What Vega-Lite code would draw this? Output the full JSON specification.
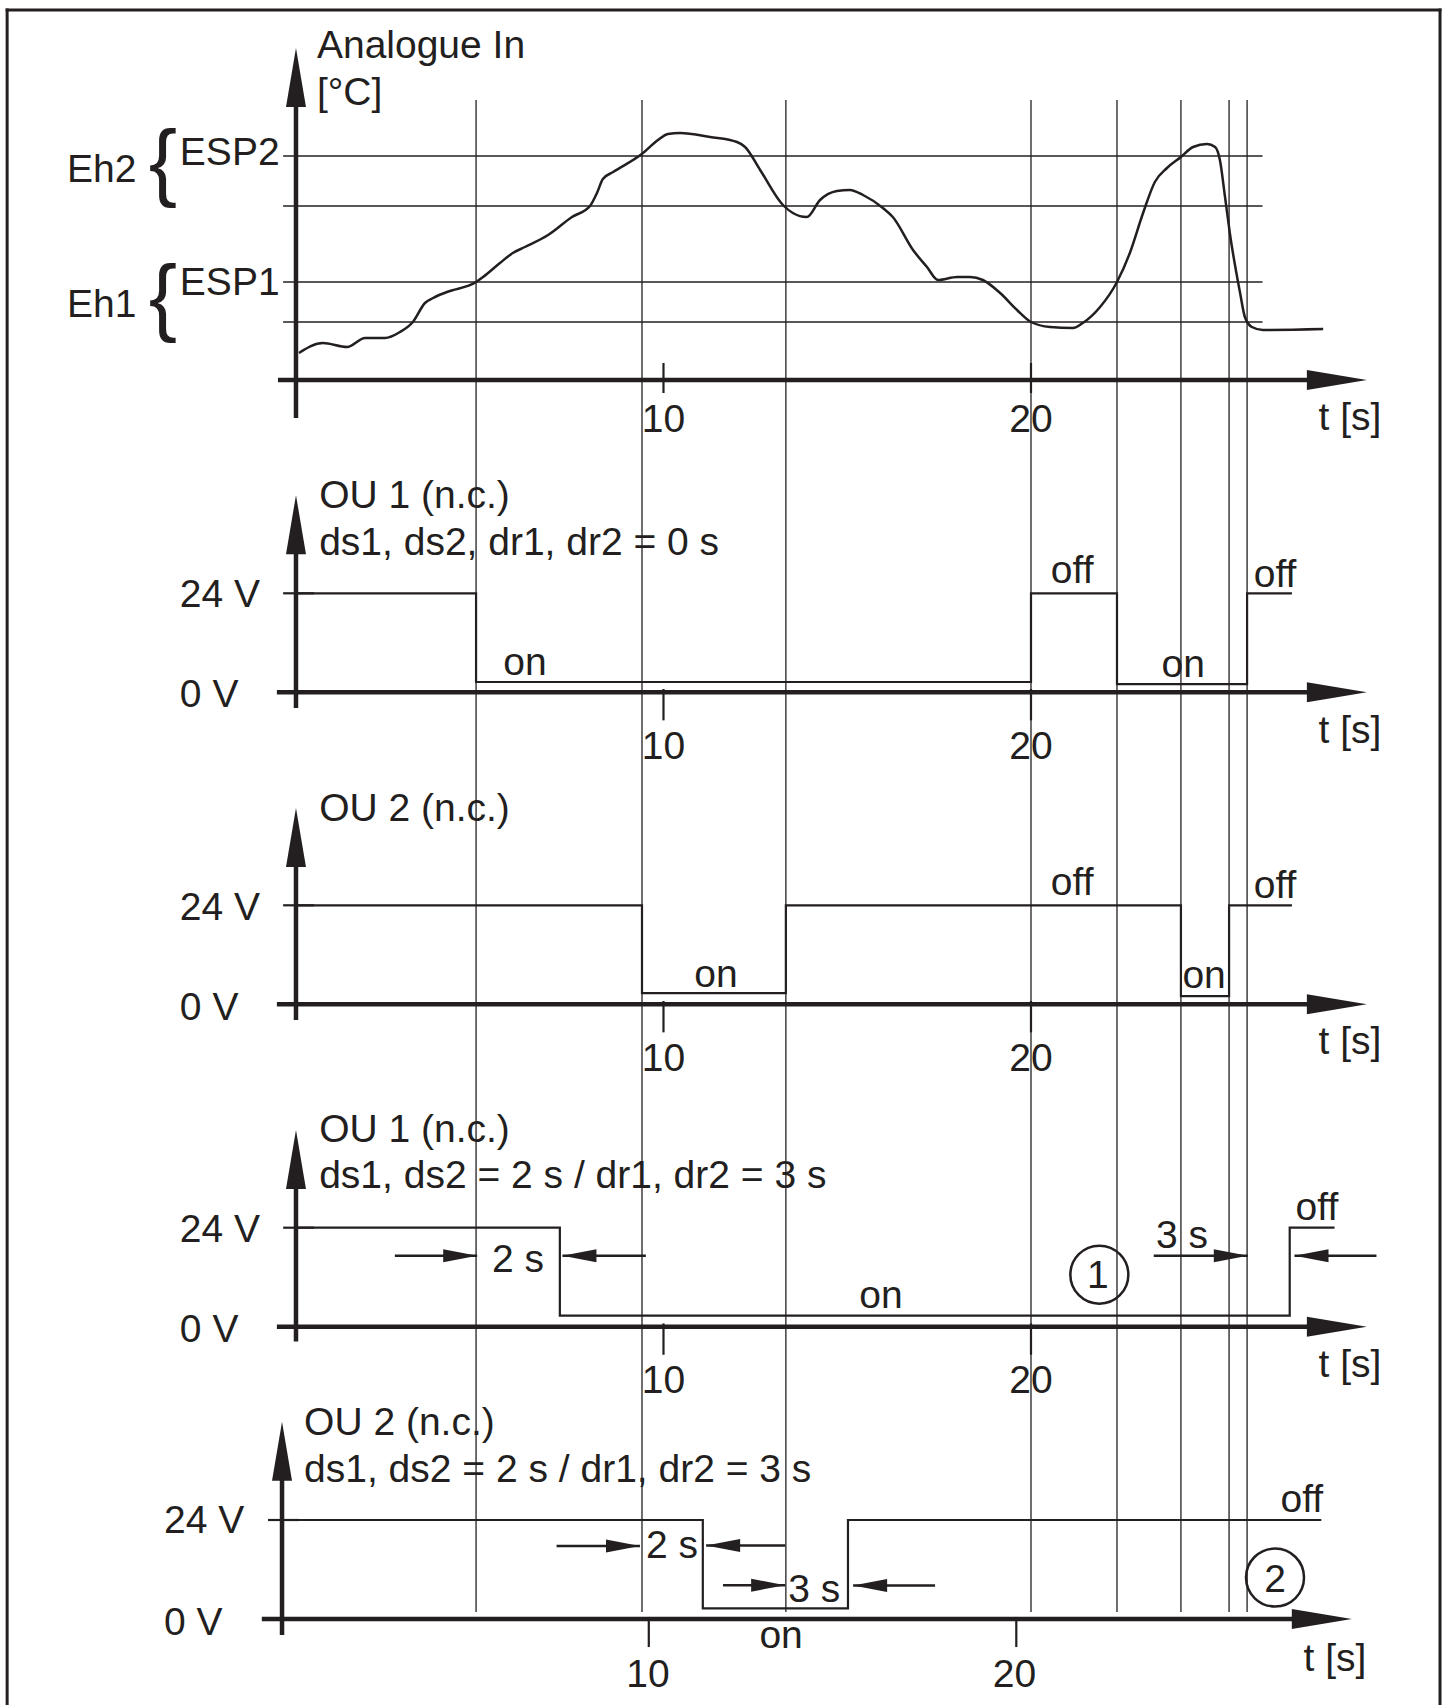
{
 "$schema": "https://vega.github.io/schema/vega-lite/v6.json",
 "background": "white",
 "padding": 0,
 "spacing": 0,
 "bounds": "flush",
 "config": {"view": {"stroke": null}, "font": "Liberation Sans"},
 "datasets": {
  "events": [{"t":4.9},{"t":9.415},{"t":13.33},{"t":20.0},{"t":22.34},{"t":24.08},{"t":25.39},{"t":25.88}],
  "frame": [{"t":-7.86},{"t":31.13}],
  "frameTop": [{"t":-7.9,"t2":31.17,"v":92.5}],
  "levels": [{"name":"ESP2","t":-0.35,"t2":26.3,"v":56},{"name":"ESP2-Eh2","t":-0.35,"t2":26.3,"v":43.5},{"name":"ESP1","t":-0.35,"t2":26.3,"v":24.5},{"name":"ESP1-Eh1","t":-0.35,"t2":26.3,"v":14.5}],
  "curve": [
   {"t":0.08,"v":6.75},{"t":0.73,"v":9.25},{"t":1.39,"v":8.25},{"t":1.88,"v":10.5},{"t":2.42,"v":10.5},{"t":2.83,"v":12.0},{"t":3.18,"v":14.5},{"t":3.51,"v":19.25},{"t":3.73,"v":20.5},{"t":4.11,"v":22.0},{"t":4.9,"v":24.5},{"t":5.09,"v":25.75},{"t":5.55,"v":29.25},{"t":5.9,"v":31.75},{"t":6.23,"v":33.25},{"t":6.86,"v":36.25},{"t":7.51,"v":40.75},{"t":8.0,"v":43.5},{"t":8.19,"v":46.75},{"t":8.35,"v":50.25},{"t":8.63,"v":52.0},{"t":9.41,"v":56.5},{"t":9.85,"v":60.0},{"t":10.12,"v":61.5},{"t":10.45,"v":61.75},{"t":11.27,"v":60.75},{"t":12.0,"v":59.5},{"t":12.22,"v":58.25},{"t":12.63,"v":52.5},{"t":13.25,"v":43.75},{"t":13.52,"v":41.75},{"t":13.9,"v":40.75},{"t":14.26,"v":45.0},{"t":14.72,"v":47.25},{"t":15.07,"v":47.5},{"t":15.43,"v":46.25},{"t":15.97,"v":43.0},{"t":16.24,"v":40.75},{"t":16.79,"v":32.5},{"t":17.17,"v":28.25},{"t":17.47,"v":25.0},{"t":17.99,"v":25.75},{"t":18.34,"v":25.75},{"t":18.69,"v":25.0},{"t":19.16,"v":21.75},{"t":19.62,"v":17.5},{"t":20.0,"v":14.5},{"t":20.52,"v":13.25},{"t":21.14,"v":13.0},{"t":21.41,"v":14.25},{"t":21.88,"v":18.25},{"t":22.34,"v":24.5},{"t":22.69,"v":31.75},{"t":23.05,"v":41.75},{"t":23.37,"v":49.5},{"t":23.7,"v":53.0},{"t":24.08,"v":55.75},{"t":24.41,"v":58.25},{"t":24.79,"v":59.0},{"t":25.01,"v":58.25},{"t":25.14,"v":55.0},{"t":25.28,"v":45.75},{"t":25.41,"v":36.75},{"t":25.69,"v":21.75},{"t":25.82,"v":15.75},{"t":26.01,"v":13.25},{"t":26.31,"v":12.5},{"t":27.95,"v":12.75}
  ],
  "axes": [
   {"panel":1,"t":0,"v":-9.5,"t2":0,"v2":70.5},{"panel":1,"t":-0.49,"v":0,"t2":27.7,"v2":0},
   {"panel":2,"t":0,"v":-3.8,"t2":0,"v2":35.7},{"panel":2,"t":-0.52,"v":0,"t2":27.7,"v2":0},
   {"panel":3,"t":0,"v":-3.8,"t2":0,"v2":35.7},{"panel":3,"t":-0.52,"v":0,"t2":27.7,"v2":0},
   {"panel":4,"t":0,"v":-3.6,"t2":0,"v2":35.7},{"panel":4,"t":-0.52,"v":0,"t2":27.7,"v2":0},
   {"panel":5,"t":-0.38,"v":-3.9,"t2":-0.38,"v2":35.7},{"panel":5,"t":-0.93,"v":0,"t2":27.3,"v2":0}
  ],
  "ticks": [
   {"panel":1,"t":10,"v":4.25,"t2":10,"v2":-3.25},{"panel":1,"t":20,"v":4.25,"t2":20,"v2":-3.25},
   {"panel":2,"t":10,"v":0.8,"t2":10,"v2":-6.8},{"panel":2,"t":20,"v":0.8,"t2":20,"v2":-6.8},{"panel":2,"t":-0.35,"v":24,"t2":0.49,"v2":24},
   {"panel":3,"t":10,"v":0.8,"t2":10,"v2":-6.8},{"panel":3,"t":20,"v":0.8,"t2":20,"v2":-6.8},{"panel":3,"t":-0.35,"v":24,"t2":0.49,"v2":24},
   {"panel":4,"t":10,"v":0.8,"t2":10,"v2":-6.8},{"panel":4,"t":20,"v":0.8,"t2":20,"v2":-6.8},{"panel":4,"t":-0.35,"v":24,"t2":0.49,"v2":24},
   {"panel":5,"t":9.6,"v":0.5,"t2":9.6,"v2":-6.8},{"panel":5,"t":19.6,"v":0.5,"t2":19.6,"v2":-6.8},{"panel":5,"t":-0.76,"v":24,"t2":0.08,"v2":24}
  ],
  "heads": [
   {"panel":1,"t":0,"v":83,"dir":"up"},{"panel":1,"t":29.14,"v":0,"dir":"right"},
   {"panel":2,"t":0,"v":47.8,"dir":"up"},{"panel":2,"t":29.14,"v":0,"dir":"right"},
   {"panel":3,"t":0,"v":47.6,"dir":"up"},{"panel":3,"t":29.14,"v":0,"dir":"right"},
   {"panel":4,"t":0,"v":47.7,"dir":"up"},{"panel":4,"t":29.14,"v":0,"dir":"right"},
   {"panel":4,"t":4.93,"v":17.2,"dir":"dimRight"},{"panel":4,"t":7.25,"v":17.2,"dir":"dimLeft"},{"panel":4,"t":25.9,"v":17.2,"dir":"dimRight"},{"panel":4,"t":27.17,"v":17.2,"dir":"dimLeft"},
   {"panel":5,"t":-0.38,"v":47.8,"dir":"up"},{"panel":5,"t":28.73,"v":0,"dir":"right"},
   {"panel":5,"t":9.36,"v":17.7,"dir":"dimRight"},{"panel":5,"t":11.16,"v":17.8,"dir":"dimLeft"},{"panel":5,"t":13.31,"v":8.2,"dir":"dimRight"},{"panel":5,"t":15.16,"v":8.1,"dir":"dimLeft"}
  ],
  "dims": [
   {"panel":4,"t":2.69,"t2":4.93,"v":17.2},{"panel":4,"t":9.52,"t2":7.25,"v":17.2},{"panel":4,"t":23.34,"t2":25.9,"v":17.2},{"panel":4,"t":29.4,"t2":27.17,"v":17.2},
   {"panel":5,"t":7.09,"t2":9.36,"v":17.7},{"panel":5,"t":13.31,"t2":11.16,"v":17.8},{"panel":5,"t":11.62,"t2":13.31,"v":8.2},{"panel":5,"t":17.39,"t2":15.16,"v":8.1}
  ],
  "circles": [{"panel":4,"t":21.86,"v":12.6},{"panel":5,"t":26.64,"v":10.06}],
  "signals": [
   {"panel":2,"t":0,"v":24},{"panel":2,"t":4.9,"v":2.5},{"panel":2,"t":20.0,"v":24},{"panel":2,"t":22.34,"v":2.0},{"panel":2,"t":25.88,"v":24},{"panel":2,"t":27.1,"v":24},
   {"panel":3,"t":0,"v":24},{"panel":3,"t":9.415,"v":2.7},{"panel":3,"t":13.33,"v":24},{"panel":3,"t":24.08,"v":2.0},{"panel":3,"t":25.39,"v":24},{"panel":3,"t":27.1,"v":24},
   {"panel":4,"t":0,"v":24},{"panel":4,"t":7.18,"v":2.7},{"panel":4,"t":27.04,"v":24},{"panel":4,"t":28.26,"v":24},
   {"panel":5,"t":-0.38,"v":24},{"panel":5,"t":11.07,"v":2.6},{"panel":5,"t":15.02,"v":24},{"panel":5,"t":27.9,"v":24}
  ],
  "braces": [{"t":-3.62,"v":47.5,"label":"{"},{"t":-3.62,"v":13.75,"label":"{"}],
  "leftText": [
   {"panel":1,"t":0.57,"v":80.4,"label":"Analogue In"},
   {"panel":1,"t":0.57,"v":68.75,"label":"[°C]"},
   {"panel":1,"t":-3.16,"v":53.75,"label":"ESP2"},
   {"panel":1,"t":-3.16,"v":21.25,"label":"ESP1"},
   {"panel":1,"t":-6.23,"v":49.5,"label":"Eh2"},
   {"panel":1,"t":-6.23,"v":15.75,"label":"Eh1"},
   {"panel":2,"t":0.63,"v":44.7,"label":"OU 1 (n.c.)"},
   {"panel":2,"t":0.63,"v":33.3,"label":"ds1, ds2, dr1, dr2 = 0 s"},
   {"panel":2,"t":-3.16,"v":20.6,"label":"24 V"},
   {"panel":2,"t":-3.16,"v":-3.6,"label":"0 V"},
   {"panel":3,"t":0.63,"v":44.4,"label":"OU 2 (n.c.)"},
   {"panel":3,"t":-3.16,"v":20.4,"label":"24 V"},
   {"panel":3,"t":-3.16,"v":-3.8,"label":"0 V"},
   {"panel":4,"t":0.63,"v":44.85,"label":"OU 1 (n.c.)"},
   {"panel":4,"t":0.63,"v":33.55,"label":"ds1, ds2 = 2 s / dr1, dr2 = 3 s"},
   {"panel":4,"t":-3.16,"v":20.5,"label":"24 V"},
   {"panel":4,"t":-3.16,"v":-3.7,"label":"0 V"},
   {"panel":5,"t":0.22,"v":44.6,"label":"OU 2 (n.c.)"},
   {"panel":5,"t":0.22,"v":33.3,"label":"ds1, ds2 = 2 s / dr1, dr2 = 3 s"},
   {"panel":5,"t":-3.59,"v":20.8,"label":"24 V"},
   {"panel":5,"t":-3.59,"v":-3.9,"label":"0 V"}
  ],
  "centerText": [
   {"panel":1,"t":10,"v":-13,"label":"10"},{"panel":1,"t":20,"v":-13,"label":"20"},{"panel":1,"t":28.68,"v":-12.4,"label":"t [s]"},
   {"panel":2,"t":6.23,"v":4.2,"label":"on"},{"panel":2,"t":21.12,"v":26.5,"label":"off"},{"panel":2,"t":24.14,"v":3.7,"label":"on"},{"panel":2,"t":26.64,"v":25.5,"label":"off"},{"panel":2,"t":10,"v":-16.1,"label":"10"},{"panel":2,"t":20,"v":-16.1,"label":"20"},{"panel":2,"t":28.68,"v":-12.2,"label":"t [s]"},
   {"panel":3,"t":11.43,"v":4.2,"label":"on"},{"panel":3,"t":21.12,"v":26.5,"label":"off"},{"panel":3,"t":24.71,"v":4.0,"label":"on"},{"panel":3,"t":26.64,"v":25.8,"label":"off"},{"panel":3,"t":10,"v":-16.1,"label":"10"},{"panel":3,"t":20,"v":-16.1,"label":"20"},{"panel":3,"t":28.68,"v":-12.0,"label":"t [s]"},
   {"panel":4,"t":6.04,"v":13.3,"label":"2 s"},{"panel":4,"t":15.92,"v":4.5,"label":"on"},{"panel":4,"t":21.82,"v":9.4,"label":"1"},{"panel":4,"t":24.11,"v":19.0,"label":"3 s"},{"panel":4,"t":27.78,"v":25.9,"label":"off"},{"panel":4,"t":10,"v":-16.0,"label":"10"},{"panel":4,"t":20,"v":-16.0,"label":"20"},{"panel":4,"t":28.68,"v":-12.3,"label":"t [s]"},
   {"panel":5,"t":10.23,"v":14.7,"label":"2 s"},{"panel":5,"t":14.1,"v":4.1,"label":"3 s"},{"panel":5,"t":13.2,"v":-7.0,"label":"on"},{"panel":5,"t":27.37,"v":25.9,"label":"off"},{"panel":5,"t":26.64,"v":6.6,"label":"2"},{"panel":5,"t":9.58,"v":-16.5,"label":"10"},{"panel":5,"t":19.55,"v":-16.5,"label":"20"},{"panel":5,"t":28.27,"v":-12.5,"label":"t [s]"}
  ]
 },
 "vconcat": [
  {
   "width": 1448, "height": 430,
   "encoding": {
    "x": {"field": "t", "type": "quantitative", "scale": {"domain": [-8.054, 31.347], "nice": false, "zero": false}, "axis": null}
   },
   "layer": [
    {"data": {"name": "events"}, "mark": {"type": "rule", "strokeWidth": 1.3, "color": "#231f20"},
     "encoding": {"y": {"datum": 70, "type": "quantitative", "scale": {"domain": [-12.5, 95], "nice": false, "zero": false}, "axis": null}, "y2": {"datum": -12.5}}},
    {"data": {"name": "frame"}, "mark": {"type": "rule", "strokeWidth": 3, "color": "#231f20"},
     "encoding": {"y": {"datum": 92.875, "type": "quantitative", "scale": {"domain": [-12.5, 95], "nice": false, "zero": false}, "axis": null}, "y2": {"datum": -12.5}}},
    {"data": {"name": "frameTop"}, "mark": {"type": "rule", "strokeWidth": 3, "color": "#231f20"},
     "encoding": {"x2": {"field": "t2"}, "y": {"field": "v", "type": "quantitative", "scale": {"domain": [-12.5, 95], "nice": false, "zero": false}, "axis": null}}},
    {"data": {"name": "levels"}, "mark": {"type": "rule", "strokeWidth": 1.5, "color": "#231f20"},
     "encoding": {"x2": {"field": "t2"}, "y": {"field": "v", "type": "quantitative", "scale": {"domain": [-12.5, 95], "nice": false, "zero": false}, "axis": null}}},
    {"data": {"name": "axes"}, "transform": [{"filter": "datum.panel == 1"}], "mark": {"type": "rule", "strokeWidth": 4.5, "color": "#231f20"},
     "encoding": {"x2": {"field": "t2"}, "y": {"field": "v", "type": "quantitative", "scale": {"domain": [-12.5, 95], "nice": false, "zero": false}, "axis": null}, "y2": {"field": "v2"}}},
    {"data": {"name": "ticks"}, "transform": [{"filter": "datum.panel == 1"}], "mark": {"type": "rule", "strokeWidth": 2.2, "color": "#231f20"},
     "encoding": {"x2": {"field": "t2"}, "y": {"field": "v", "type": "quantitative", "scale": {"domain": [-12.5, 95], "nice": false, "zero": false}, "axis": null}, "y2": {"field": "v2"}}},
    {"data": {"name": "curve"}, "mark": {"type": "line", "interpolate": "monotone", "strokeWidth": 2.5, "color": "#231f20"},
     "encoding": {"y": {"field": "v", "type": "quantitative", "scale": {"domain": [-12.5, 95], "nice": false, "zero": false}, "axis": null}}},
    {"data": {"name": "heads"}, "transform": [{"filter": "datum.panel == 1"}], "mark": {"type": "point", "filled": true, "size": 3600, "opacity": 1, "color": "#231f20"},
     "encoding": {"y": {"field": "v", "type": "quantitative", "scale": {"domain": [-12.5, 95], "nice": false, "zero": false}, "axis": null},
      "shape": {"field": "dir", "type": "nominal", "legend": null, "scale": {"domain": ["up", "right", "dimRight", "dimLeft"], "range": ["M0,0L0.333,1.967L-0.333,1.967Z", "M0,0L-2,-0.333L-2,0.333Z", "M0,0L-1.133,-0.217L-1.133,0.217Z", "M0,0L1.133,-0.217L1.133,0.217Z"]}}}},
    {"data": {"name": "braces"}, "mark": {"type": "text", "align": "center", "baseline": "alphabetic", "fontSize": 85, "font": "Liberation Sans", "color": "#231f20"},
     "encoding": {"y": {"field": "v", "type": "quantitative", "scale": {"domain": [-12.5, 95], "nice": false, "zero": false}, "axis": null}, "text": {"field": "label"}}},
    {"data": {"name": "leftText"}, "transform": [{"filter": "datum.panel == 1"}], "mark": {"type": "text", "align": "left", "baseline": "alphabetic", "fontSize": 39, "font": "Liberation Sans", "color": "#231f20"},
     "encoding": {"y": {"field": "v", "type": "quantitative", "scale": {"domain": [-12.5, 95], "nice": false, "zero": false}, "axis": null}, "text": {"field": "label"}}},
    {"data": {"name": "centerText"}, "transform": [{"filter": "datum.panel == 1"}], "mark": {"type": "text", "align": "center", "baseline": "alphabetic", "fontSize": 39, "font": "Liberation Sans", "color": "#231f20"},
     "encoding": {"y": {"field": "v", "type": "quantitative", "scale": {"domain": [-12.5, 95], "nice": false, "zero": false}, "axis": null}, "text": {"field": "label"}}}
   ]
  },
  {
   "width": 1448, "height": 315,
   "encoding": {
    "x": {"field": "t", "type": "quantitative", "scale": {"domain": [-8.054, 31.347], "nice": false, "zero": false}, "axis": null}
   },
   "layer": [
    {"data": {"name": "events"}, "mark": {"type": "rule", "strokeWidth": 1.3, "color": "#231f20"}, "encoding": {}},
    {"data": {"name": "frame"}, "mark": {"type": "rule", "strokeWidth": 3, "color": "#231f20"}, "encoding": {}},
    {"data": {"name": "axes"}, "transform": [{"filter": "datum.panel == 2"}], "mark": {"type": "rule", "strokeWidth": 4.5, "color": "#231f20"},
     "encoding": {"x2": {"field": "t2"}, "y": {"field": "v", "type": "quantitative", "scale": {"domain": [-12.776, 63.588], "nice": false, "zero": false}, "axis": null}, "y2": {"field": "v2"}}},
    {"data": {"name": "ticks"}, "transform": [{"filter": "datum.panel == 2"}], "mark": {"type": "rule", "strokeWidth": 2.2, "color": "#231f20"},
     "encoding": {"x2": {"field": "t2"}, "y": {"field": "v", "type": "quantitative", "scale": {"domain": [-12.776, 63.588], "nice": false, "zero": false}, "axis": null}, "y2": {"field": "v2"}}},
    {"data": {"name": "signals"}, "transform": [{"filter": "datum.panel == 2"}], "mark": {"type": "line", "interpolate": "step-after", "strokeWidth": 2.2, "color": "#231f20"},
     "encoding": {"y": {"field": "v", "type": "quantitative", "scale": {"domain": [-12.776, 63.588], "nice": false, "zero": false}, "axis": null}}},
    {"data": {"name": "heads"}, "transform": [{"filter": "datum.panel == 2"}], "mark": {"type": "point", "filled": true, "size": 3600, "opacity": 1, "color": "#231f20"},
     "encoding": {"y": {"field": "v", "type": "quantitative", "scale": {"domain": [-12.776, 63.588], "nice": false, "zero": false}, "axis": null},
      "shape": {"field": "dir", "type": "nominal", "legend": null, "scale": {"domain": ["up", "right", "dimRight", "dimLeft"], "range": ["M0,0L0.333,1.967L-0.333,1.967Z", "M0,0L-2,-0.333L-2,0.333Z", "M0,0L-1.133,-0.217L-1.133,0.217Z", "M0,0L1.133,-0.217L1.133,0.217Z"]}}}},
    {"data": {"name": "leftText"}, "transform": [{"filter": "datum.panel == 2"}], "mark": {"type": "text", "align": "left", "baseline": "alphabetic", "fontSize": 39, "font": "Liberation Sans", "color": "#231f20"},
     "encoding": {"y": {"field": "v", "type": "quantitative", "scale": {"domain": [-12.776, 63.588], "nice": false, "zero": false}, "axis": null}, "text": {"field": "label"}}},
    {"data": {"name": "centerText"}, "transform": [{"filter": "datum.panel == 2"}], "mark": {"type": "text", "align": "center", "baseline": "alphabetic", "fontSize": 39, "font": "Liberation Sans", "color": "#231f20"},
     "encoding": {"y": {"field": "v", "type": "quantitative", "scale": {"domain": [-12.776, 63.588], "nice": false, "zero": false}, "axis": null}, "text": {"field": "label"}}}
   ]
  },
  {
   "width": 1448, "height": 315,
   "encoding": {
    "x": {"field": "t", "type": "quantitative", "scale": {"domain": [-8.054, 31.347], "nice": false, "zero": false}, "axis": null}
   },
   "layer": [
    {"data": {"name": "events"}, "mark": {"type": "rule", "strokeWidth": 1.3, "color": "#231f20"}, "encoding": {}},
    {"data": {"name": "frame"}, "mark": {"type": "rule", "strokeWidth": 3, "color": "#231f20"}, "encoding": {}},
    {"data": {"name": "axes"}, "transform": [{"filter": "datum.panel == 3"}], "mark": {"type": "rule", "strokeWidth": 4.5, "color": "#231f20"},
     "encoding": {"x2": {"field": "t2"}, "y": {"field": "v", "type": "quantitative", "scale": {"domain": [-13.503, 62.861], "nice": false, "zero": false}, "axis": null}, "y2": {"field": "v2"}}},
    {"data": {"name": "ticks"}, "transform": [{"filter": "datum.panel == 3"}], "mark": {"type": "rule", "strokeWidth": 2.2, "color": "#231f20"},
     "encoding": {"x2": {"field": "t2"}, "y": {"field": "v", "type": "quantitative", "scale": {"domain": [-13.503, 62.861], "nice": false, "zero": false}, "axis": null}, "y2": {"field": "v2"}}},
    {"data": {"name": "signals"}, "transform": [{"filter": "datum.panel == 3"}], "mark": {"type": "line", "interpolate": "step-after", "strokeWidth": 2.2, "color": "#231f20"},
     "encoding": {"y": {"field": "v", "type": "quantitative", "scale": {"domain": [-13.503, 62.861], "nice": false, "zero": false}, "axis": null}}},
    {"data": {"name": "heads"}, "transform": [{"filter": "datum.panel == 3"}], "mark": {"type": "point", "filled": true, "size": 3600, "opacity": 1, "color": "#231f20"},
     "encoding": {"y": {"field": "v", "type": "quantitative", "scale": {"domain": [-13.503, 62.861], "nice": false, "zero": false}, "axis": null},
      "shape": {"field": "dir", "type": "nominal", "legend": null, "scale": {"domain": ["up", "right", "dimRight", "dimLeft"], "range": ["M0,0L0.333,1.967L-0.333,1.967Z", "M0,0L-2,-0.333L-2,0.333Z", "M0,0L-1.133,-0.217L-1.133,0.217Z", "M0,0L1.133,-0.217L1.133,0.217Z"]}}}},
    {"data": {"name": "leftText"}, "transform": [{"filter": "datum.panel == 3"}], "mark": {"type": "text", "align": "left", "baseline": "alphabetic", "fontSize": 39, "font": "Liberation Sans", "color": "#231f20"},
     "encoding": {"y": {"field": "v", "type": "quantitative", "scale": {"domain": [-13.503, 62.861], "nice": false, "zero": false}, "axis": null}, "text": {"field": "label"}}},
    {"data": {"name": "centerText"}, "transform": [{"filter": "datum.panel == 3"}], "mark": {"type": "text", "align": "center", "baseline": "alphabetic", "fontSize": 39, "font": "Liberation Sans", "color": "#231f20"},
     "encoding": {"y": {"field": "v", "type": "quantitative", "scale": {"domain": [-13.503, 62.861], "nice": false, "zero": false}, "axis": null}, "text": {"field": "label"}}}
   ]
  },
  {
   "width": 1448, "height": 300,
   "encoding": {
    "x": {"field": "t", "type": "quantitative", "scale": {"domain": [-8.054, 31.347], "nice": false, "zero": false}, "axis": null}
   },
   "layer": [
    {"data": {"name": "events"}, "mark": {"type": "rule", "strokeWidth": 1.3, "color": "#231f20"}, "encoding": {}},
    {"data": {"name": "frame"}, "mark": {"type": "rule", "strokeWidth": 3, "color": "#231f20"}, "encoding": {}},
    {"data": {"name": "axes"}, "transform": [{"filter": "datum.panel == 4"}], "mark": {"type": "rule", "strokeWidth": 4.5, "color": "#231f20"},
     "encoding": {"x2": {"field": "t2"}, "y": {"field": "v", "type": "quantitative", "scale": {"domain": [-8.073, 64.655], "nice": false, "zero": false}, "axis": null}, "y2": {"field": "v2"}}},
    {"data": {"name": "ticks"}, "transform": [{"filter": "datum.panel == 4"}], "mark": {"type": "rule", "strokeWidth": 2.2, "color": "#231f20"},
     "encoding": {"x2": {"field": "t2"}, "y": {"field": "v", "type": "quantitative", "scale": {"domain": [-8.073, 64.655], "nice": false, "zero": false}, "axis": null}, "y2": {"field": "v2"}}},
    {"data": {"name": "signals"}, "transform": [{"filter": "datum.panel == 4"}], "mark": {"type": "line", "interpolate": "step-after", "strokeWidth": 2.2, "color": "#231f20"},
     "encoding": {"y": {"field": "v", "type": "quantitative", "scale": {"domain": [-8.073, 64.655], "nice": false, "zero": false}, "axis": null}}},
    {"data": {"name": "dims"}, "transform": [{"filter": "datum.panel == 4"}], "mark": {"type": "rule", "strokeWidth": 2.5, "color": "#231f20"},
     "encoding": {"x2": {"field": "t2"}, "y": {"field": "v", "type": "quantitative", "scale": {"domain": [-8.073, 64.655], "nice": false, "zero": false}, "axis": null}}},
    {"data": {"name": "heads"}, "transform": [{"filter": "datum.panel == 4"}], "mark": {"type": "point", "filled": true, "size": 3600, "opacity": 1, "color": "#231f20"},
     "encoding": {"y": {"field": "v", "type": "quantitative", "scale": {"domain": [-8.073, 64.655], "nice": false, "zero": false}, "axis": null},
      "shape": {"field": "dir", "type": "nominal", "legend": null, "scale": {"domain": ["up", "right", "dimRight", "dimLeft"], "range": ["M0,0L0.333,1.967L-0.333,1.967Z", "M0,0L-2,-0.333L-2,0.333Z", "M0,0L-1.133,-0.217L-1.133,0.217Z", "M0,0L1.133,-0.217L1.133,0.217Z"]}}}},
    {"data": {"name": "circles"}, "transform": [{"filter": "datum.panel == 4"}], "mark": {"type": "point", "shape": "circle", "filled": false, "size": 3364, "strokeWidth": 2.5, "opacity": 1, "color": "#231f20"},
     "encoding": {"y": {"field": "v", "type": "quantitative", "scale": {"domain": [-8.073, 64.655], "nice": false, "zero": false}, "axis": null}}},
    {"data": {"name": "leftText"}, "transform": [{"filter": "datum.panel == 4"}], "mark": {"type": "text", "align": "left", "baseline": "alphabetic", "fontSize": 39, "font": "Liberation Sans", "color": "#231f20"},
     "encoding": {"y": {"field": "v", "type": "quantitative", "scale": {"domain": [-8.073, 64.655], "nice": false, "zero": false}, "axis": null}, "text": {"field": "label"}}},
    {"data": {"name": "centerText"}, "transform": [{"filter": "datum.panel == 4"}], "mark": {"type": "text", "align": "center", "baseline": "alphabetic", "fontSize": 39, "font": "Liberation Sans", "color": "#231f20"},
     "encoding": {"y": {"field": "v", "type": "quantitative", "scale": {"domain": [-8.073, 64.655], "nice": false, "zero": false}, "axis": null}, "text": {"field": "label"}}}
   ]
  },
  {
   "width": 1448, "height": 345,
   "encoding": {
    "x": {"field": "t", "type": "quantitative", "scale": {"domain": [-8.054, 31.347], "nice": false, "zero": false}, "axis": null}
   },
   "layer": [
    {"data": {"name": "events"}, "mark": {"type": "rule", "strokeWidth": 1.3, "color": "#231f20"},
     "encoding": {"y": {"datum": 62.788, "type": "quantitative", "scale": {"domain": [-20.848, 62.788], "nice": false, "zero": false}, "axis": null}, "y2": {"datum": 1.7}}},
    {"data": {"name": "frame"}, "mark": {"type": "rule", "strokeWidth": 3, "color": "#231f20"}, "encoding": {}},
    {"data": {"name": "axes"}, "transform": [{"filter": "datum.panel == 5"}], "mark": {"type": "rule", "strokeWidth": 4.5, "color": "#231f20"},
     "encoding": {"x2": {"field": "t2"}, "y": {"field": "v", "type": "quantitative", "scale": {"domain": [-20.848, 62.788], "nice": false, "zero": false}, "axis": null}, "y2": {"field": "v2"}}},
    {"data": {"name": "ticks"}, "transform": [{"filter": "datum.panel == 5"}], "mark": {"type": "rule", "strokeWidth": 2.2, "color": "#231f20"},
     "encoding": {"x2": {"field": "t2"}, "y": {"field": "v", "type": "quantitative", "scale": {"domain": [-20.848, 62.788], "nice": false, "zero": false}, "axis": null}, "y2": {"field": "v2"}}},
    {"data": {"name": "signals"}, "transform": [{"filter": "datum.panel == 5"}], "mark": {"type": "line", "interpolate": "step-after", "strokeWidth": 2.2, "color": "#231f20"},
     "encoding": {"y": {"field": "v", "type": "quantitative", "scale": {"domain": [-20.848, 62.788], "nice": false, "zero": false}, "axis": null}}},
    {"data": {"name": "dims"}, "transform": [{"filter": "datum.panel == 5"}], "mark": {"type": "rule", "strokeWidth": 2.5, "color": "#231f20"},
     "encoding": {"x2": {"field": "t2"}, "y": {"field": "v", "type": "quantitative", "scale": {"domain": [-20.848, 62.788], "nice": false, "zero": false}, "axis": null}}},
    {"data": {"name": "heads"}, "transform": [{"filter": "datum.panel == 5"}], "mark": {"type": "point", "filled": true, "size": 3600, "opacity": 1, "color": "#231f20"},
     "encoding": {"y": {"field": "v", "type": "quantitative", "scale": {"domain": [-20.848, 62.788], "nice": false, "zero": false}, "axis": null},
      "shape": {"field": "dir", "type": "nominal", "legend": null, "scale": {"domain": ["up", "right", "dimRight", "dimLeft"], "range": ["M0,0L0.333,1.967L-0.333,1.967Z", "M0,0L-2,-0.333L-2,0.333Z", "M0,0L-1.133,-0.217L-1.133,0.217Z", "M0,0L1.133,-0.217L1.133,0.217Z"]}}}},
    {"data": {"name": "circles"}, "transform": [{"filter": "datum.panel == 5"}], "mark": {"type": "point", "shape": "circle", "filled": false, "size": 3364, "strokeWidth": 2.5, "opacity": 1, "color": "#231f20"},
     "encoding": {"y": {"field": "v", "type": "quantitative", "scale": {"domain": [-20.848, 62.788], "nice": false, "zero": false}, "axis": null}}},
    {"data": {"name": "leftText"}, "transform": [{"filter": "datum.panel == 5"}], "mark": {"type": "text", "align": "left", "baseline": "alphabetic", "fontSize": 39, "font": "Liberation Sans", "color": "#231f20"},
     "encoding": {"y": {"field": "v", "type": "quantitative", "scale": {"domain": [-20.848, 62.788], "nice": false, "zero": false}, "axis": null}, "text": {"field": "label"}}},
    {"data": {"name": "centerText"}, "transform": [{"filter": "datum.panel == 5"}], "mark": {"type": "text", "align": "center", "baseline": "alphabetic", "fontSize": 39, "font": "Liberation Sans", "color": "#231f20"},
     "encoding": {"y": {"field": "v", "type": "quantitative", "scale": {"domain": [-20.848, 62.788], "nice": false, "zero": false}, "axis": null}, "text": {"field": "label"}}}
   ]
  }
 ]
}
